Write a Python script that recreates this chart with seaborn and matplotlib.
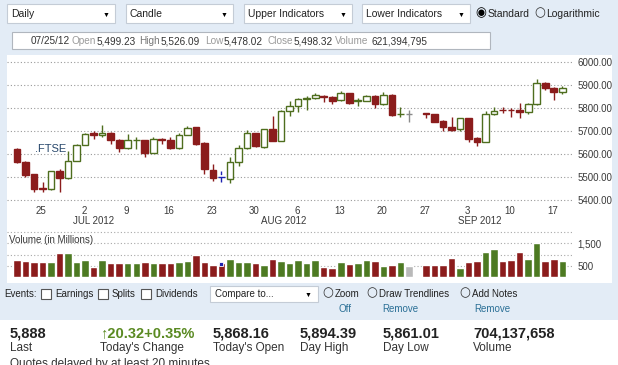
import pandas as pd
import seaborn as sns
import matplotlib.pyplot as plt
from matplotlib.patches import Rectangle
from matplotlib.transforms import blended_transform_factory

# FTSE daily candles, one slot per weekday from 21 Jun 2012 to 19 Sep 2012
# (slot 47 = 27 Aug bank holiday, empty)
opens = [5620, 5567, 5512, 5452, 5448, 5524, 5495, 5570, 5641, 5690,
         5684, 5691, 5663, 5627, 5660, 5660, 5605, 5666, 5660, 5624,
         5684, 5716, 5648, 5531, 5499.23, 5491, 5566, 5625, 5690, 5632,
         5707, 5658, 5787, 5809, 5840, 5842, 5852, 5849, 5835, 5864,
         5830, 5832, 5853, 5817, 5857, 5772, 5775, None, 5777, 5774,
         5745, 5716, 5707, 5755, 5668, 5654, 5773, 5792, 5792, 5792,
         5782, 5816, 5911, 5889, 5868.16]
highs = [5624, 5570, 5515, 5476, 5528, 5534, 5615, 5645, 5690, 5699,
         5727, 5695, 5666, 5687, 5676, 5663, 5676, 5670, 5673, 5690,
         5720, 5718, 5650, 5555, 5526.09, 5588, 5639, 5704, 5693, 5710,
         5765, 5790, 5832, 5842, 5852, 5864, 5856, 5852, 5873, 5867,
         5842, 5856, 5856, 5871, 5860, 5806, 5790, None, 5779, 5776,
         5748, 5762, 5757, 5757, 5672, 5786, 5806, 5806, 5800, 5821,
         5820, 5928, 5913, 5892, 5894.39]
lows = [5562, 5498, 5433, 5433, 5445, 5433, 5493, 5568, 5638, 5667,
        5674, 5645, 5610, 5620, 5623, 5587, 5603, 5643, 5620, 5620,
        5682, 5640, 5512, 5484, 5478.02, 5474, 5548, 5620, 5630, 5627,
        5655, 5655, 5765, 5784, 5790, 5838, 5827, 5817, 5832, 5818,
        5810, 5830, 5800, 5815, 5765, 5760, 5740, None, 5755, 5740,
        5700, 5700, 5700, 5652, 5634, 5650, 5770, 5780, 5763, 5756,
        5775, 5814, 5880, 5835, 5861.01]
closes = [5567, 5509, 5448, 5447, 5524, 5495, 5570, 5641, 5687, 5683,
          5691, 5663, 5627, 5659, 5663, 5605, 5666, 5660, 5627, 5684,
          5713, 5644, 5534, 5495, 5498.32, 5566, 5625, 5690, 5635, 5707,
          5658, 5787, 5809, 5838, 5843, 5857, 5846, 5830, 5867, 5823,
          5833, 5852, 5817, 5857, 5770, 5776, 5774, None, 5774, 5740,
          5716, 5705, 5755, 5664, 5654, 5774, 5789, 5790, 5791, 5782,
          5816, 5911, 5885, 5868, 5888]
volumes = [770, 730, 680, 680, 680, 1060, 1060, 680, 770, 450,
           770, 610, 610, 610, 610, 680, 610, 610, 610, 680,
           730, 960, 680, 550, 621, 800, 680, 680, 610, 550,
           800, 730, 610, 770, 610, 740, 455, 400, 650, 580,
           610, 740, 710, 500, 550, 650, 500, None, 550, 550,
           545, 830, 420, 650, 730, 1100, 1260, 700, 760, 1100,
           800, 1520, 700, 800, 704]

price_ticks = [5400, 5500, 5600, 5700, 5800, 5900, 6000]
vol_ticks = [500, 1500]
vol_labels = ["500", "1,500"]
monday_slots = [2, 7, 12, 17, 22, 27, 32, 37, 42, 47, 52, 57, 62]
day_labels = ["25", "2", "9", "16", "23", "30", "6", "13", "20", "27", "3", "10", "17"]
month_labels = ["JUL 2012", "AUG 2012", "SEP 2012"]
month_slots = [9.0, 31.3, 54.3]
selected_day = 24
no_volume_day = 46

GREEN = "#4e6e1e"
GREEN_BAR = "#4d7a22"
RED = "#8b1c1c"
BLUE = "#1c22b0"
GRAY = "#b9b9b9"
LIGHT = "#e3ecf6"
LINK = "#2a6f96"

df = pd.DataFrame({"open": opens, "high": highs, "low": lows,
                   "close": closes, "vol": volumes}, dtype=float)
df["slot"] = range(len(df))
df = df.dropna()
df["dir"] = ["up" if c >= o else "down" for o, c in zip(df["open"], df["close"])]
df.loc[df["slot"] == no_volume_day, "dir"] = "none"

sns.set_style("white")
plt.rcParams["font.family"] = ["Liberation Sans", "DejaVu Sans"]

W, H = 618, 365
fig = plt.figure(figsize=(W / 100, H / 100), dpi=100)
fig.patch.set_facecolor("white")


def px_axes(l, t, r, b):
    return fig.add_axes([l / W, 1 - b / H, (r - l) / W, (b - t) / H])


def box(l, t, r, b, fc, ec="none", lw=0.8, z=-5):
    fig.patches.append(Rectangle((l / W, 1 - b / H), (r - l) / W, (b - t) / H,
                                 transform=fig.transFigure, fc=fc, ec=ec, lw=lw, zorder=z))


def txt(x, y, s, **kw):
    kw.setdefault("fontsize", 7.5)
    kw.setdefault("color", "#222222")
    fig.text(x / W, 1 - y / H, s, va="center", **kw)


# page backgrounds
box(0, 0, W, 55, LIGHT)
box(0, 55, 7, 283, LIGHT)
box(612, 55, W, 283, LIGHT)
box(0, 283, W, 320, LIGHT)

# --- price panel ---
x0 = -1.17
x1 = 65.14
ax = px_axes(7, 57, 572, 205)
ax.set_facecolor("none")
for _, r in df.iterrows():
    s = r["slot"]
    if s == selected_day:
        col, fill = BLUE, BLUE
    elif s == no_volume_day:
        col, fill = "#8a8a8a", "#8a8a8a"
    elif r["dir"] == "up":
        col, fill = GREEN, "white"
    else:
        col, fill = RED, RED
    ax.vlines(s, r["low"], r["high"], color=col, lw=1, zorder=2,
              linestyles="dashed" if s == selected_day else "solid")
    lo = min(r["open"], r["close"])
    ax.bar(s, abs(r["close"] - r["open"]), bottom=lo, width=0.78,
           color=fill, edgecolor=col, lw=1, zorder=3)

ax.set_xlim(x0, x1)
ax.set_ylim(5378, 6022)
ax.yaxis.tick_right()
ax.set_yticks(price_ticks)
ax.set_yticklabels([f"{v:.2f}" for v in price_ticks])
ax.set_xticks([m + 0.85 for m in monday_slots])
ax.set_xticklabels(day_labels)
ax.tick_params(length=0, labelsize=7, labelcolor="#3a3a3a", pad=0.5)
ax.tick_params(axis="y", pad=4)
ax.grid(axis="y", ls=(0, (1, 2)), color="#999999", lw=0.8)
ax.grid(axis="x", visible=False)
for sp in ax.spines.values():
    sp.set_visible(False)
tr = blended_transform_factory(ax.transData, ax.transAxes)
for lab, pos in zip(month_labels, month_slots):
    ax.text(pos, -0.11, lab, transform=tr, ha="center", va="center",
            fontsize=7, color="#3a3a3a")
ax.text(2.1, 5622, ".FTSE", fontsize=8, color="#27476b", va="center")

# --- volume panel ---
axv = px_axes(7, 231, 572, 277)
axv.set_facecolor("none")
sns.barplot(data=df, x="slot", y="vol", hue="dir", native_scale=True,
            palette={"up": GREEN_BAR, "down": RED, "none": GRAY},
            dodge=False, width=0.88, saturation=1, errorbar=None,
            legend=False, ax=axv)
sel = df[df["slot"] == selected_day]
axv.plot(sel["slot"], sel["vol"] - 40, "s", color=BLUE, ms=3.5,
         mec="white", mew=0.6, zorder=4)
axv.set_xlim(x0, x1)
axv.set_ylim(0, 2045)
axv.yaxis.tick_right()
axv.set_yticks(vol_ticks)
axv.set_yticklabels(vol_labels)
axv.set_xticks([])
axv.set_xlabel("")
axv.set_ylabel("")
axv.tick_params(length=0, labelsize=7, labelcolor="#3a3a3a", pad=4)
for lev in [500, 1000, 1500, 2000]:
    axv.axhline(lev, ls=(0, (1, 2)), color="#a8a8a8", lw=0.8, zorder=0)
for sp in axv.spines.values():
    sp.set_visible(False)
txt(9, 240, "Volume (in Millions)", fontsize=7, color="#3a3a3a")

# --- top toolbar ---
for l, r, lab in [(7, 115, "Daily"), (126, 233, "Candle"),
                  (244, 352, "Upper Indicators"), (362, 470, "Lower Indicators")]:
    box(l, 4, r, 23, "white", ec="#c4ccd6", z=1)
    txt(l + 4, 14, lab)
    txt(r - 12, 15, "▼", fontsize=5, color="black")
txt(475, 13, "◉", fontsize=9, color="black", family="DejaVu Sans")
txt(488, 14, "Standard")
txt(534, 13, "○", fontsize=9, color="#333333", family="DejaVu Sans")
txt(546, 14, "Logarithmic")

box(12, 32, 490, 49, "white", ec="#b0b6be", z=1)
info = [(31, "07/25/12", "#333333"), (72, "Open", "#9a9a9a"), (97, "5,499.23", "#333333"),
        (139, "High", "#777777"), (161, "5,526.09", "#333333"), (205, "Low", "#9a9a9a"),
        (224, "5,478.02", "#333333"), (267, "Close", "#9a9a9a"), (294, "5,498.32", "#333333"),
        (335, "Volume", "#9a9a9a"), (371, "621,394,795", "#333333")]
for x, s, c in info:
    txt(x, 41, s, color=c, fontsize=7.2)

# --- events / tools row ---
txt(4, 294, "Events:", fontsize=7)
for cb, lab in [(41, "Earnings"), (98, "Splits"), (141, "Dividends")]:
    box(cb, 289, cb + 10, 299, "white", ec="#555555", z=1)
    txt(cb + 14, 294, lab, fontsize=7)
box(210, 286, 318, 302, "white", ec="#c4ccd6", z=1)
txt(215, 294, "Compare to...", fontsize=7)
txt(305, 295, "▼", fontsize=5, color="black")
for rx, lab in [(322, "Zoom"), (366, "Draw Trendlines"), (459, "Add Notes")]:
    txt(rx, 293, "○", fontsize=9, color="#333333", family="DejaVu Sans")
    txt(rx + 13, 294, lab, fontsize=7)
txt(338, 309, "Off", color=LINK, fontsize=7)
txt(382, 309, "Remove", color=LINK, fontsize=7)
txt(474, 309, "Remove", color=LINK, fontsize=7)

# --- quote summary ---
stats = [(10, "5,888", "Last"), (100, "↑20.32+0.35%", "Today's Change"),
         (213, "5,868.16", "Today's Open"), (300, "5,894.39", "Day High"),
         (383, "5,861.01", "Day Low"), (473, "704,137,658", "Volume")]
for x, val, lab in stats:
    col = "#5a8a22" if val.startswith("↑") else "#222222"
    txt(x, 333, val, fontsize=10.5, fontweight="bold", color=col)
    txt(x, 348, lab, fontsize=8.5, color="#333333")
fig.text(10 / W, 1 - 358 / H, "Quotes delayed by at least 20 minutes",
         va="top", fontsize=8.5, color="#333333")

fig.savefig("out.png", dpi=100)
